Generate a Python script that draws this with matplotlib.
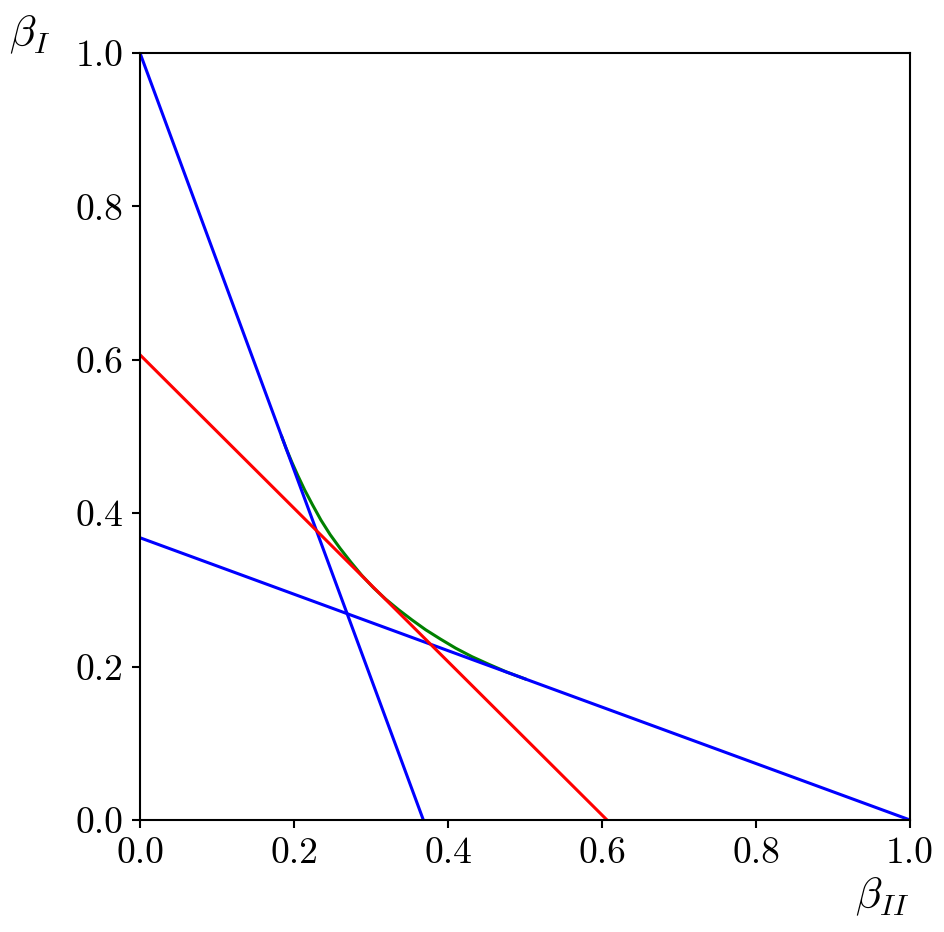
import matplotlib
matplotlib.use("Agg")
import matplotlib.pyplot as plt
import numpy as np

plt.rcParams['font.family'] = 'serif'
plt.rcParams['font.serif'] = ['cmr10']
plt.rcParams['mathtext.fontset'] = 'cm'
plt.rcParams['axes.formatter.use_mathtext'] = True
plt.rcParams['axes.unicode_minus'] = False

# Blue line 1: from (0, 1) to (0.368, 0)
blue1_x = [0.0, 0.368]
blue1_y = [1.0, 0.0]
# Blue line 2: from (0, 0.368) to (1, 0)
blue2_x = [0.0, 1.0]
blue2_y = [0.368, 0.0]
# Red line: from (0, 0.6065) to (0.6065, 0)
red_x = [0.0, 0.6065]
red_y = [0.6065, 0.0]
# Green curve (envelope)
green_x = [0.184, 0.190, 0.197, 0.205, 0.214, 0.224, 0.235, 0.247, 0.260, 0.274,
           0.288, 0.303, 0.319, 0.336, 0.353, 0.371, 0.390, 0.410, 0.431, 0.453,
           0.476, 0.500]
green_y = [0.500, 0.484, 0.467, 0.449, 0.430, 0.411, 0.391, 0.372, 0.354, 0.336,
           0.319, 0.303, 0.288, 0.274, 0.261, 0.248, 0.236, 0.224, 0.213, 0.203,
           0.193, 0.184]

ticks = [0.0, 0.2, 0.4, 0.6, 0.8, 1.0]
tick_labels = ['0.0', '0.2', '0.4', '0.6', '0.8', '1.0']

fig = plt.figure(figsize=(9.44, 9.32), dpi=100)
ax = fig.add_axes([140/944, 1 - 820/932, 770/944, 767/932])

lw = 2.2
ax.plot(green_x, green_y, color='green', lw=lw)
ax.plot(blue1_x, blue1_y, color='blue', lw=lw)
ax.plot(blue2_x, blue2_y, color='blue', lw=lw)
ax.plot(red_x, red_y, color='red', lw=lw)

ax.set_xlim(0, 1)
ax.set_ylim(0, 1)
ax.set_xticks(ticks)
ax.set_yticks(ticks)
ax.set_xticklabels(tick_labels)
ax.set_yticklabels(tick_labels)
ax.tick_params(labelsize=27, length=6, width=1.5, pad=6)
for s in ax.spines.values():
    s.set_linewidth(1.5)

fig.text(30/944, 1 - 35/932, r'$\beta_I$', fontsize=31, ha='center', va='center')
fig.text(882/944, 1 - 897/932, r'$\beta_{II}$', fontsize=31, ha='center', va='center')

fig.savefig('out.png', dpi=100)
